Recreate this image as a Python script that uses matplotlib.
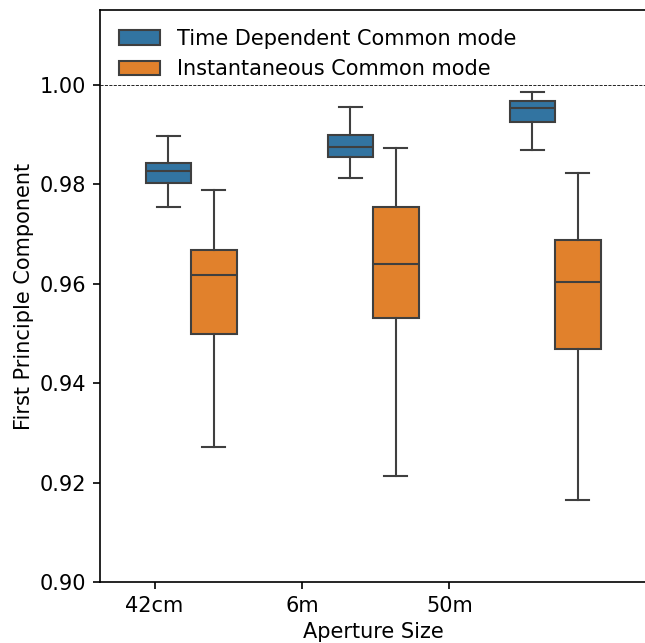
import matplotlib
matplotlib.use("Agg")
import matplotlib.pyplot as plt
from matplotlib.patches import Patch

apertures = ["42cm", "6m", "50m"]
series = ["Time Dependent Common mode", "Instantaneous Common mode"]
colors = ["#3274a1", "#e1812c"]

# box stats: lower whisker, q1, median, q3, upper whisker
td_low = [0.9755, 0.9812, 0.9870]
td_q1 = [0.9803, 0.9856, 0.9926]
td_med = [0.9827, 0.9876, 0.9954]
td_q3 = [0.9844, 0.9899, 0.9968]
td_high = [0.9897, 0.9955, 0.9987]

inst_low = [0.9272, 0.9213, 0.9166]
inst_q1 = [0.9499, 0.9531, 0.9469]
inst_med = [0.9617, 0.9639, 0.9604]
inst_q3 = [0.9669, 0.9755, 0.9689]
inst_high = [0.9789, 0.9873, 0.9822]

tick_pos = [-0.2, 0.61, 1.42]

fs = 15
lc = "#3f3f3f"

fig = plt.figure(figsize=(6.45, 6.43), dpi=100)
ax = fig.add_axes([100 / 645, 61 / 643, 546 / 645, 572 / 643])


def stats(low, q1, med, q3, high):
    return [dict(whislo=a, q1=b, med=c, q3=d, whishi=e, fliers=[])
            for a, b, c, d, e in zip(low, q1, med, q3, high)]


groups = [stats(td_low, td_q1, td_med, td_q3, td_high),
          stats(inst_low, inst_q1, inst_med, inst_q3, inst_high)]
offsets = [-0.125, 0.125]
for st, off, c in zip(groups, offsets, colors):
    pos = [i + off for i in range(len(apertures))]
    ax.bxp(st, positions=pos, widths=0.25, capwidths=0.125, patch_artist=True,
           showfliers=False, manage_ticks=False,
           boxprops=dict(facecolor=c, edgecolor=lc, linewidth=1.5),
           medianprops=dict(color=lc, linewidth=1.5),
           whiskerprops=dict(color=lc, linewidth=1.5),
           capprops=dict(color=lc, linewidth=1.5))

ax.axhline(1.0, color="black", linestyle="--", linewidth=0.6)

ax.set_xlim(-0.5, 2.5)
ax.set_ylim(0.90, 1.0151)
ax.set_xticks(tick_pos)
ax.set_xticklabels(apertures)
ax.set_yticks([0.90, 0.92, 0.94, 0.96, 0.98, 1.00])
ax.set_yticklabels(["0.90", "0.92", "0.94", "0.96", "0.98", "1.00"])
ax.tick_params(labelsize=fs, length=5.25, width=1.2, pad=5)
for s in ax.spines.values():
    s.set_linewidth(1.2)
ax.set_xlabel("Aperture Size", fontsize=fs)
ax.set_ylabel("First Principle Component", fontsize=fs)

handles = [Patch(facecolor=c, edgecolor=lc, linewidth=1.5) for c in colors]
ax.legend(handles, series, loc="upper left", frameon=False, fontsize=fs)

fig.savefig("out.png", dpi=100)
